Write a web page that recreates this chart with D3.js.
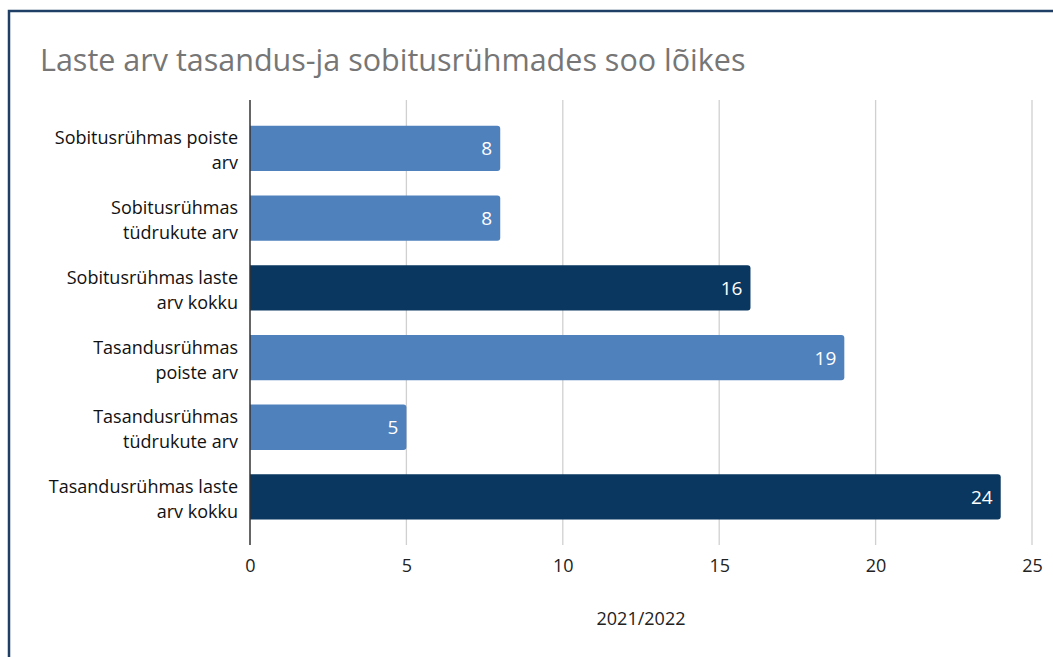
<!DOCTYPE html>
<html><head><meta charset="utf-8">
<script src="https://cdn.jsdelivr.net/npm/d3@7"></script>
<style>body{margin:0;background:#fff}svg{display:block}</style>
</head><body>
<svg id="c" width="1053" height="657"></svg>
<script>
const categories = [
  ["Sobitusrühmas poiste", "arv"],
  ["Sobitusrühmas", "tüdrukute arv"],
  ["Sobitusrühmas laste", "arv kokku"],
  ["Tasandusrühmas", "poiste arv"],
  ["Tasandusrühmas", "tüdrukute arv"],
  ["Tasandusrühmas laste", "arv kokku"]
];
const values = [8, 8, 16, 19, 5, 24];
const isTotal = [false, false, true, false, false, true];
const xTicks = [0, 5, 10, 15, 20, 25];
const title = "Laste arv tasandus-ja sobitusrühmades soo lõikes";
const axisTitle = "2021/2022";

const svg = d3.select("#c");
const font = "'Open Sans', 'Noto Sans', sans-serif";
svg.append("rect").attr("x", 9).attr("y", 11).attr("width", 1060).attr("height", 660)
  .attr("fill", "#fff").attr("stroke", "#1f3f66").attr("stroke-width", 2.5);

svg.append("text").attr("x", 40).attr("y", 71).text(title)
  .attr("font-family", font).attr("font-size", 30.5).attr("fill", "#767676");

const plotTop = 100, plotBottom = 545;
const x = d3.scaleLinear().domain([0, 25]).range([250, 1032]);
const y = d3.scaleBand().domain(d3.range(values.length)).range([113.6, 531.8]).paddingInner(0.35).paddingOuter(0.175);

const g = svg.append("g");
g.selectAll("line.grid").data(xTicks.slice(1)).join("line")
  .attr("x1", d => x(d)).attr("x2", d => x(d)).attr("y1", plotTop).attr("y2", plotBottom)
  .attr("stroke", "#d0d0d0").attr("stroke-width", 1.3);

const xAxis = d3.axisBottom(x).tickValues(xTicks).tickSize(0).tickPadding(14);
const ax = svg.append("g").attr("transform", `translate(0,${plotBottom})`).call(xAxis);
ax.select(".domain").remove();
ax.selectAll("text").attr("font-family", font).attr("font-size", 18).attr("fill", "#222");

const r = 3;
g.selectAll("path.bar").data(values).join("path")
  .attr("d", (d, i) => {
    const x0 = x(0), x1 = x(d), y0 = y(i), h = y.bandwidth();
    return `M${x0},${y0} H${x1 - r} Q${x1},${y0} ${x1},${y0 + r} V${y0 + h - r} Q${x1},${y0 + h} ${x1 - r},${y0 + h} H${x0} Z`;
  })
  .attr("fill", (d, i) => isTotal[i] ? "#0a3760" : "#4f81bd");

g.selectAll("text.val").data(values).join("text")
  .attr("x", d => x(d) - 8).attr("y", (d, i) => y(i) + y.bandwidth() / 2 + 7)
  .attr("text-anchor", "end").attr("font-family", font).attr("font-size", 19).attr("fill", "#fff")
  .text(d => d);

svg.append("line").attr("x1", x(0)).attr("x2", x(0)).attr("y1", plotTop).attr("y2", plotBottom)
  .attr("stroke", "#333").attr("stroke-width", 1.5);

const cl = svg.append("g").selectAll("text").data(categories).join("text")
  .attr("text-anchor", "end").attr("font-family", font).attr("font-size", 18).attr("fill", "#111");
cl.each(function(d, i) {
  const t = d3.select(this);
  const cy = y(i) + y.bandwidth() / 2;
  d.forEach((line, k) => {
    t.append("tspan").attr("x", 238).attr("y", cy - 4 + k * 25).text(line);
  });
});

svg.append("text").attr("x", 641).attr("y", 625).attr("text-anchor", "middle")
  .attr("font-family", font).attr("font-size", 18).attr("fill", "#222").text(axisTitle);
</script>
</body></html>
